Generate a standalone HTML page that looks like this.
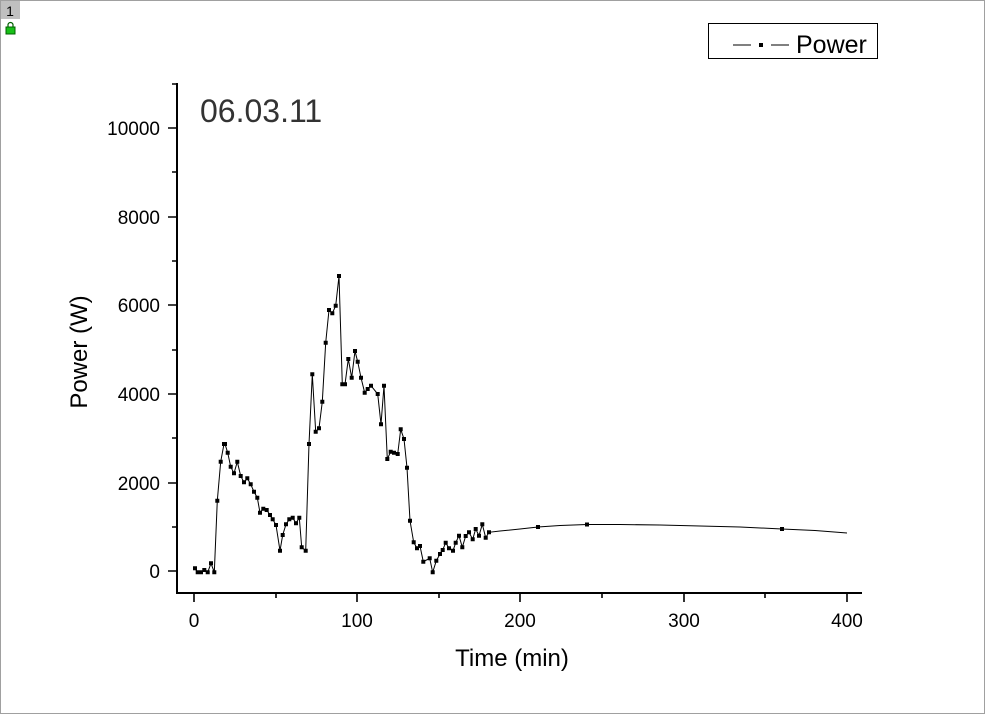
<!DOCTYPE html>
<html><head><style>
html,body{margin:0;padding:0;background:#fff;}
svg{display:block;}
text{font-family:"Liberation Sans",Arial,sans-serif;}
</style></head><body>
<svg width="985" height="714" viewBox="0 0 985 714" xmlns="http://www.w3.org/2000/svg">
<rect x="0.5" y="0.5" width="984" height="713" fill="#fff" stroke="#a0a0a0"/>
<rect x="1" y="1" width="19" height="18" fill="#c0c0c0"/>
<text x="10" y="16" font-size="14" text-anchor="middle" fill="#000">1</text>
<rect x="6" y="27" width="9" height="7" fill="#18c018" stroke="#006000" stroke-width="1"/>
<path d="M8 27 v-2 a2.5 2.5 0 0 1 5 0 v2" fill="none" stroke="#006000" stroke-width="1.2"/>
<g stroke="#000" stroke-width="2" fill="none">
<path d="M177 83 V593 H862"/>
</g>
<g stroke="#000" stroke-width="1.6">
<path d="M168 571H177M168 483H177M168 394H177M168 305H177M168 217H177M168 128H177"/>
<path d="M172 527H177M172 438H177M172 350H177M172 261H177M172 172H177M172 84H177"/>
<path d="M194 593V602M357 593V602M520 593V602M684 593V602M847 593V602"/>
<path d="M276 593V598M439 593V598M602 593V598M765 593V598"/>
</g>
<g font-size="19" fill="#000" text-anchor="end">
<text x="160" y="578">0</text>
<text x="160" y="490">2000</text>
<text x="160" y="401">4000</text>
<text x="160" y="312">6000</text>
<text x="160" y="224">8000</text>
<text x="160" y="135">10000</text>
</g>
<g font-size="19" fill="#000" text-anchor="middle">
<text x="194" y="627">0</text>
<text x="357" y="627">100</text>
<text x="520" y="627">200</text>
<text x="684" y="627">300</text>
<text x="847" y="627">400</text>
</g>
<text x="512" y="666" font-size="24" text-anchor="middle">Time (min)</text>
<text transform="translate(87 352) rotate(-90)" font-size="24" text-anchor="middle">Power (W)</text>
<text x="200" y="122" font-size="32" fill="#333">06.03.11</text>
<rect x="708.5" y="23.5" width="169" height="35" fill="#fff" stroke="#000" stroke-width="1"/>
<path d="M733 45H751M771 45H789" stroke="#000" stroke-width="1"/>
<rect x="759" y="43" width="4" height="4" fill="#000"/>
<text x="796" y="53" font-size="25">Power</text>
<polyline fill="none" stroke="#000" stroke-width="1" points="195,568.3 197.7,572.3 201,572.3 204.3,570 207.7,572.3 211,563.3 214.3,572.3 217.3,500.7 220.7,461.7 224,444 225,444 227.7,452.7 230.7,466.7 234,473.3 237.3,461.7 240.7,476 244,482.3 247.3,478.3 250.7,484.3 254,491.7 257.3,497.7 260,512.7 263.3,508.7 266.7,510 270,515 272.7,519.3 276,525 280,550.7 282.7,535 286,524.3 289.3,519.3 292.7,517.7 296,523.3 299.3,517.7 301.7,547.3 305.7,550.7 309,444 312.3,374.3 315.7,431.7 319,428.3 322.3,401.7 325.7,342.7 329,310 332.3,313.3 335.7,305.7 339,276 342.3,384.3 345,384.3 348.3,359 351.7,377.7 355,351 357.7,361.7 361,377.7 364.7,392.7 367.7,389 371,385.7 377.7,394 381,424.3 384,385.7 387.3,459 390.7,451.7 394,452.7 397.7,454 400.7,429.3 404,439 407,467.7 410,520.7 413.7,542.3 417,548.3 420,546 423.3,561.7 429.7,558.3 432.7,572.3 436.3,560.7 440,554 442.7,550 445.7,542.7 449,548.3 453,550.7 455.7,542.7 459,535.7 462.3,547.3 465.7,536 469,532.3 472.7,539.3 475.7,529 479,535.7 482.3,524.3 485.7,537.7 489,532.3 500,531 520,529 538,527 560,525.5 587,524.5 620,524.5 660,525 700,526 740,527 782,529 815,530.5 847,533"/>
<path fill="#000" d="M193 566.3h4v4h-4zM195.7 570.3h4v4h-4zM199 570.3h4v4h-4zM202.3 568h4v4h-4zM205.7 570.3h4v4h-4zM209 561.3h4v4h-4zM212.3 570.3h4v4h-4zM215.3 498.7h4v4h-4zM218.7 459.7h4v4h-4zM222 442h4v4h-4zM223 442h4v4h-4zM225.7 450.7h4v4h-4zM228.7 464.7h4v4h-4zM232 471.3h4v4h-4zM235.3 459.7h4v4h-4zM238.7 474h4v4h-4zM242 480.3h4v4h-4zM245.3 476.3h4v4h-4zM248.7 482.3h4v4h-4zM252 489.7h4v4h-4zM255.3 495.7h4v4h-4zM258 510.7h4v4h-4zM261.3 506.7h4v4h-4zM264.7 508h4v4h-4zM268 513h4v4h-4zM270.7 517.3h4v4h-4zM274 523h4v4h-4zM278 548.7h4v4h-4zM280.7 533h4v4h-4zM284 522.3h4v4h-4zM287.3 517.3h4v4h-4zM290.7 515.7h4v4h-4zM294 521.3h4v4h-4zM297.3 515.7h4v4h-4zM299.7 545.3h4v4h-4zM303.7 548.7h4v4h-4zM307 442h4v4h-4zM310.3 372.3h4v4h-4zM313.7 429.7h4v4h-4zM317 426.3h4v4h-4zM320.3 399.7h4v4h-4zM323.7 340.7h4v4h-4zM327 308h4v4h-4zM330.3 311.3h4v4h-4zM333.7 303.7h4v4h-4zM337 274h4v4h-4zM340.3 382.3h4v4h-4zM343 382.3h4v4h-4zM346.3 357h4v4h-4zM349.7 375.7h4v4h-4zM353 349h4v4h-4zM355.7 359.7h4v4h-4zM359 375.7h4v4h-4zM362.7 390.7h4v4h-4zM365.7 387h4v4h-4zM369 383.7h4v4h-4zM375.7 392h4v4h-4zM379 422.3h4v4h-4zM382 383.7h4v4h-4zM385.3 457h4v4h-4zM388.7 449.7h4v4h-4zM392 450.7h4v4h-4zM395.7 452h4v4h-4zM398.7 427.3h4v4h-4zM402 437h4v4h-4zM405 465.7h4v4h-4zM408 518.7h4v4h-4zM411.7 540.3h4v4h-4zM415 546.3h4v4h-4zM418 544h4v4h-4zM421.3 559.7h4v4h-4zM427.7 556.3h4v4h-4zM430.7 570.3h4v4h-4zM434.3 558.7h4v4h-4zM438 552h4v4h-4zM440.7 548h4v4h-4zM443.7 540.7h4v4h-4zM447 546.3h4v4h-4zM451 548.7h4v4h-4zM453.7 540.7h4v4h-4zM457 533.7h4v4h-4zM460.3 545.3h4v4h-4zM463.7 534h4v4h-4zM467 530.3h4v4h-4zM470.7 537.3h4v4h-4zM473.7 527h4v4h-4zM477 533.7h4v4h-4zM480.3 522.3h4v4h-4zM483.7 535.7h4v4h-4zM487 530.3h4v4h-4zM536 525h4v4h-4zM585 522.5h4v4h-4zM780 527h4v4h-4z"/>
</svg>
</body></html>
